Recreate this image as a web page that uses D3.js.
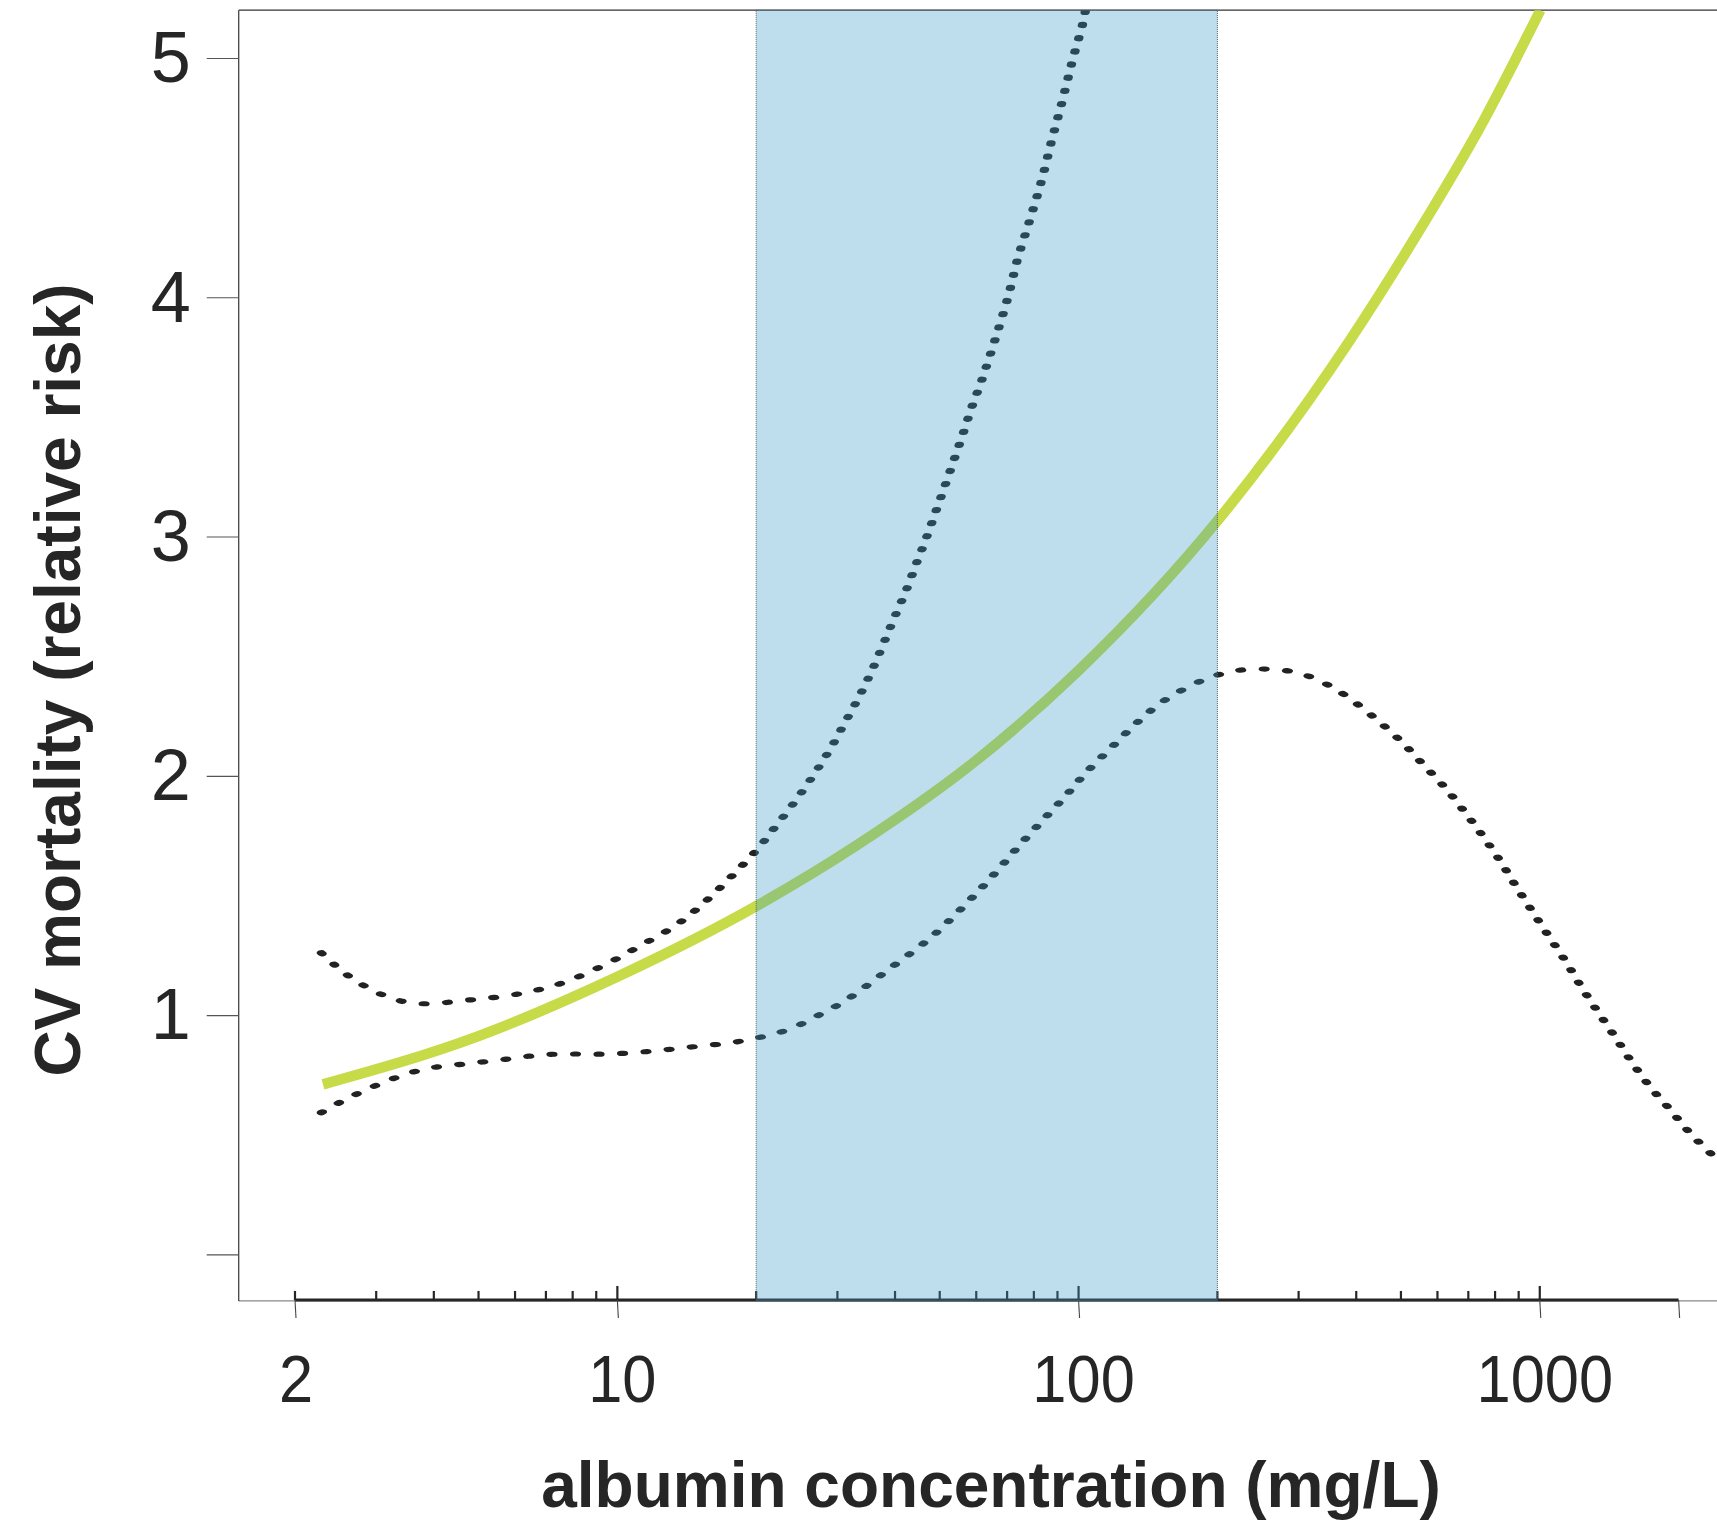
<!DOCTYPE html>
<html>
<head>
<meta charset="utf-8">
<script src="https://cdn.jsdelivr.net/npm/d3@7"></script>
<style>
  html, body { margin: 0; padding: 0; background: #ffffff; }
  svg { display: block; }
  text { font-family: "Liberation Sans", Arial, Helvetica, sans-serif; fill: #262626; }
</style>
</head>
<body>
<svg id="chart" width="1717" height="1522"></svg>
<script>
// ---------------- data ----------------
// Fitted relative risk (green line)
const fitX = [2.30, 5, 10, 20, 33.07, 60.16, 100, 200.9, 387.5, 540.5, 753.9, 1003];
const fitY = [0.710, 0.912, 1.160, 1.455, 1.710, 2.066, 2.440, 3.070, 3.820, 4.260, 4.735, 5.200];

// Upper confidence limit (dotted)
const upperX = [2.28, 2.44, 2.66, 2.96, 3.26, 3.64, 4.08, 4.58, 5.11, 6.25, 7.60, 9.59, 11.24, 13.14, 15.02, 19.84, 21.92, 24.15, 26.50, 28.84, 31.03, 33.40, 35.64, 37.76, 39.89, 42.23, 44.45, 46.72, 49.04, 51.37, 53.82, 56.29, 58.78, 61.70, 70.11, 73.74, 78.40, 83.18, 87.52, 92.23, 97.05, 102.5, 104.5];
const upperY = [1.260, 1.209, 1.153, 1.102, 1.068, 1.049, 1.049, 1.060, 1.068, 1.092, 1.134, 1.219, 1.291, 1.365, 1.450, 1.680, 1.783, 1.887, 1.997, 2.107, 2.217, 2.329, 2.440, 2.552, 2.662, 2.772, 2.885, 2.992, 3.105, 3.214, 3.326, 3.435, 3.545, 3.654, 3.992, 4.159, 4.323, 4.489, 4.658, 4.821, 4.991, 5.157, 5.250];

// Lower confidence limit (dotted)
const lowerX = [2.28, 2.56, 2.87, 3.20, 3.56, 3.97, 4.44, 4.94, 5.51, 6.08, 6.80, 7.55, 8.52, 9.55, 10.86, 12.17, 13.65, 15.39, 17.37, 19.54, 22.03, 24.77, 27.78, 31.08, 38.7, 48.2, 59.96, 67.02, 74.41, 83.09, 93.63, 104.2, 118.2, 133.7, 152.7, 180.1, 200.7, 224.9, 255.0, 285.6, 318.9, 351.8, 382.1, 438.4, 499.1, 558.1, 624.0, 688.5, 755.1, 823.2, 889.0, 965.2, 1050, 1141, 1231, 1337, 1457, 1580, 1730, 1920, 2126, 2391];
const lowerY = [0.592, 0.645, 0.690, 0.728, 0.759, 0.780, 0.791, 0.801, 0.811, 0.822, 0.833, 0.837, 0.837, 0.837, 0.843, 0.851, 0.861, 0.872, 0.882, 0.900, 0.922, 0.958, 1.007, 1.058, 1.190, 1.330, 1.508, 1.609, 1.709, 1.808, 1.915, 2.017, 2.121, 2.221, 2.312, 2.388, 2.422, 2.442, 2.446, 2.438, 2.413, 2.374, 2.331, 2.242, 2.146, 2.048, 1.949, 1.847, 1.744, 1.640, 1.537, 1.431, 1.325, 1.221, 1.117, 1.013, 0.908, 0.806, 0.703, 0.603, 0.503, 0.407];

// Shaded band (albumin concentration range, mg/L)
const bandRange = [20, 200];

// Axis ticks
const yTicks = [0, 1, 2, 3, 4, 5];
const xLabelTicks = [2, 10, 100, 1000];
const xMajorTicks = [2, 10, 100, 1000, 2000];
const xMinorTicks = [3, 4, 5, 6, 7, 8, 9, 20, 30, 40, 50, 60, 70, 80, 90, 200, 300, 400, 500, 600, 700, 800, 900];
const xAxisRange = [2, 2000];
const xDomain = [1.51, 2500];
const yDomain = [-0.195, 5.2];

const xTitle = "albumin concentration (mg/L)";
const yTitle = "CV mortality (relative risk)";

// ---------------- drawing ----------------
(function () {
const svg = d3.select("#chart");
const W = 1717, H = 1522;

const x = d3.scaleLog().domain(xDomain).range([238.7, 1723.3]);
const y = d3.scaleLinear().domain([0, 5]).range([1254.3, 58]);

const pLeft = x(xDomain[0]);
const pRight = x(xDomain[1]);
const pTop = y(yDomain[1]);
const pBottom = y(yDomain[0]);

const toPts = (xs, ys) => xs.map((v, i) => ({x: v, y: ys[i]}));

// clip
svg.append("defs").append("clipPath").attr("id", "plotclip")
  .append("rect").attr("x", pLeft).attr("y", pTop).attr("width", pRight - pLeft).attr("height", pBottom - pTop);

// frame
const frame = svg.append("g").attr("fill", "none");
frame.append("line").attr("x1", pLeft).attr("x2", W + 10).attr("y1", pTop).attr("y2", pTop)
  .attr("stroke", "#333").attr("stroke-width", 1.4);
frame.append("line").attr("x1", pLeft).attr("x2", W + 10).attr("y1", pBottom).attr("y2", pBottom)
  .attr("stroke", "#888").attr("stroke-width", 1.2);
frame.append("line").attr("x1", pLeft).attr("x2", pLeft).attr("y1", pTop).attr("y2", pBottom)
  .attr("stroke", "#444").attr("stroke-width", 1.3);

// y axis
const yAxis = d3.axisLeft(y).tickValues(yTicks).tickSize(32).tickPadding(16)
  .tickFormat(d => d === 0 ? "" : String(d));
const gy = svg.append("g").attr("transform", `translate(${pLeft},0)`).call(yAxis);
gy.select(".domain").remove();
gy.selectAll(".tick line").attr("stroke", "#555").attr("stroke-width", 1.2);
gy.selectAll(".tick text").attr("font-size", 72).attr("fill", "#262626")
  .attr("font-family", "Liberation Sans, Arial, sans-serif").attr("dy", "0.33em");

// x axis (custom log axis)
const axisY = pBottom - 1;
const gx = svg.append("g");
gx.append("line").attr("x1", x(xAxisRange[0])).attr("x2", x(xAxisRange[1]))
  .attr("y1", axisY).attr("y2", axisY).attr("stroke", "#262626").attr("stroke-width", 3);
gx.selectAll("line.minor").data(xMinorTicks).join("line").attr("class", "minor")
  .attr("x1", d => x(d)).attr("x2", d => x(d)).attr("y1", axisY - 9).attr("y2", axisY)
  .attr("stroke", "#262626").attr("stroke-width", 2.2);
gx.selectAll("line.majorUp").data(xMajorTicks.filter(d => d !== 2000)).join("line").attr("class", "majorUp")
  .attr("x1", d => x(d)).attr("x2", d => x(d)).attr("y1", d => axisY - (d === 2 ? 9 : 14)).attr("y2", axisY)
  .attr("stroke", "#262626").attr("stroke-width", 2.2);
gx.selectAll("line.majorDown").data(xMajorTicks).join("line").attr("class", "majorDown")
  .attr("x1", d => x(d)).attr("x2", d => x(d) + 1).attr("y1", axisY).attr("y2", axisY + 18)
  .attr("stroke", "#444").attr("stroke-width", 1.1);
gx.selectAll("text.xl").data(xLabelTicks).join("text").attr("class", "xl")
  .attr("transform", d => `translate(${x(d) + (d === 2 ? 1 : 5)},1402) scale(0.93,1)`).attr("text-anchor", "middle")
  .attr("font-size", 66).text(d => d);

// plot lines
const plot = svg.append("g").attr("clip-path", "url(#plotclip)");

const line = d3.line().x(d => x(d.x)).y(d => y(d.y)).curve(d3.curveMonotoneX);
plot.append("path").datum(toPts(fitX, fitY)).attr("d", line)
  .attr("fill", "none").attr("stroke", "#c6db47").attr("stroke-width", 10.5).attr("stroke-linecap", "butt");

// dotted confidence limits, drawn in a horizontally stretched frame to mimic the elongated dots
const kx = 1.77;
const lineS = d3.line().x(d => x(d.x) / kx).y(d => y(d.y)).curve(d3.curveCatmullRom.alpha(0.5));
const dots = plot.append("g").attr("transform", `scale(${kx},1)`);
[toPts(upperX, upperY), toPts(lowerX, lowerY)].forEach(pts => {
  dots.append("path").datum(pts).attr("d", lineS)
    .attr("fill", "none").attr("stroke", "#222")
    .attr("stroke-width", 5.2).attr("stroke-linecap", "round")
    .attr("stroke-dasharray", "1.1 12.2");
});

// translucent band on top
svg.append("rect")
  .attr("x", x(bandRange[0])).attr("y", pTop)
  .attr("width", x(bandRange[1]) - x(bandRange[0])).attr("height", pBottom - pTop)
  .attr("fill", "rgb(60,154,200)").attr("fill-opacity", 0.33)
  .attr("stroke", "#4d6470").attr("stroke-width", 1).attr("stroke-dasharray", "1 1");

// titles
svg.append("text").attr("x", 991).attr("y", 1507).attr("text-anchor", "middle")
  .attr("font-size", 64).attr("font-weight", "bold").text(xTitle);
svg.append("text").attr("transform", "translate(80,680) rotate(-90)").attr("text-anchor", "middle")
  .attr("font-size", 64).attr("font-weight", "bold").text(yTitle);
})();
</script>
</body>
</html>
